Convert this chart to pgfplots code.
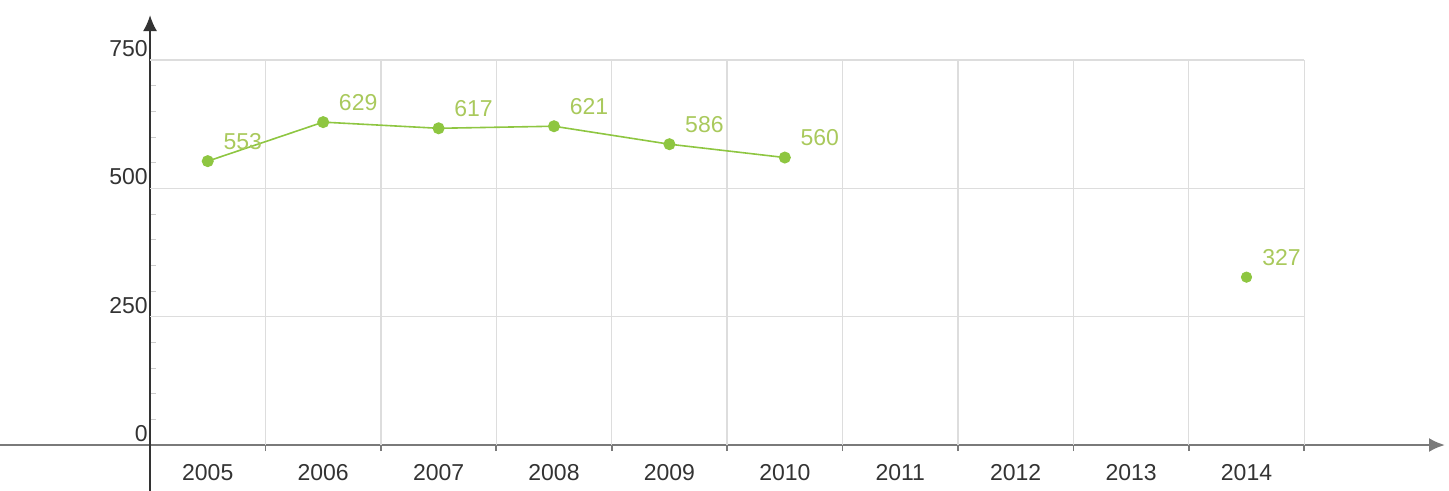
\documentclass[border=0pt]{standalone}
\usepackage{pgfplots}
\pgfplotsset{compat=1.18}
\usepackage{fontspec}
\setmainfont{Liberation Sans}
\usetikzlibrary{arrows.meta}
\definecolor{gridc}{HTML}{DDDDDD}
\definecolor{linec}{HTML}{8EC641}
\definecolor{labc}{HTML}{A9C95C}
\definecolor{txtc}{HTML}{333333}
\definecolor{xaxc}{HTML}{7A7A7A}
\begin{document}
\begin{tikzpicture}
\begin{axis}[
  scale only axis,
  width=722.5pt, height=238pt,
  xmin=-1.30, xmax=11.22,
  ymin=-89.6, ymax=837.7,
  axis lines=middle,
  clip=false,
  /pgf/number format/assume math mode=true,
  x axis line style={draw=xaxc, line width=1.2pt, -{Latex[length=8pt,width=7pt]}},
  y axis line style={draw=txtc, line width=1pt, -{Latex[length=8pt,width=7pt]}},
  xtick={0.5,1.5,...,9.5},
  xticklabels={2005,2006,2007,2008,2009,2010,2011,2012,2013,2014},
  minor xtick={1,2,...,10},
  major x tick style={draw=none},
  minor x tick style={draw=xaxc, line width=0.8pt},
  minor tick length=3pt,
  tick align=outside,
  ytick={0,250,500,750},
  minor y tick num=4,
  major y tick style={draw=gray!60, line width=0.5pt},
  minor y tick style={draw=gray!40, line width=0.4pt},
  ytick align=inside,
  major tick length=3pt,
  hide obscured x ticks=false,
  hide obscured y ticks=false,
  xticklabel style={font=\fontsize{11.5}{13}\selectfont, text=txtc, anchor=north, yshift=-3pt},
  yticklabel style={font=\fontsize{11.5}{13}\selectfont, text=txtc, anchor=south east, inner sep=1pt, xshift=0pt, yshift=0.5pt},
  nodes near coords,
  every node near coord/.append style={font=\fontsize{11.5}{13}\selectfont, text=labc, anchor=center, xshift=17.5pt, yshift=10pt},
]
\foreach \xx in {1,...,10} {
  \edef\temp{\noexpand\draw[gridc, line width=0.7pt] (axis cs:\xx,0) -- (axis cs:\xx,750);}
  \temp
}
\foreach \yy in {250,500,750} {
  \edef\temp{\noexpand\draw[gridc, line width=0.7pt] (axis cs:0,\yy) -- (axis cs:10,\yy);}
  \temp
}
\addplot[linec, line width=0.8pt, mark=*, mark size=2.6pt, mark options={fill=linec, draw=linec}]
  coordinates {(0.5,553) (1.5,629) (2.5,617) (3.5,621) (4.5,586) (5.5,560)};
\addplot[linec, only marks, mark=*, mark size=2.6pt, mark options={fill=linec, draw=linec}]
  coordinates {(9.5,327)};
\end{axis}
\pgfresetboundingbox
\useasboundingbox (current axis.south west) rectangle ++(724.5pt,245.5pt);
\end{tikzpicture}
\end{document}
